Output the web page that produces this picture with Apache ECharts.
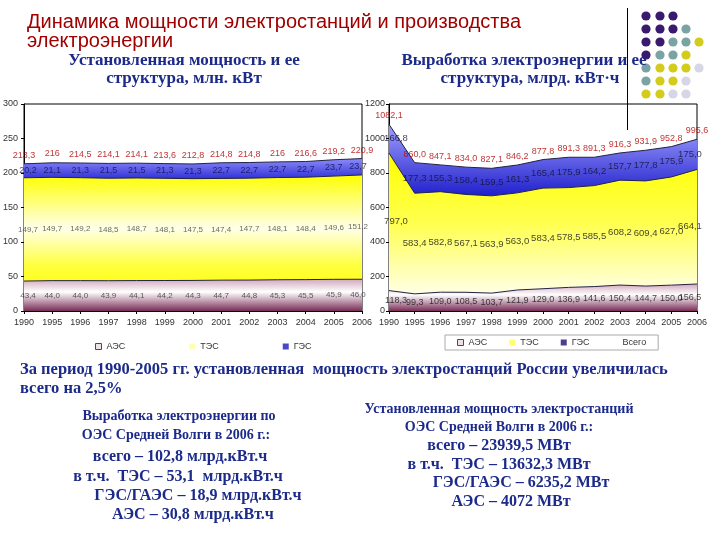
<!DOCTYPE html>
<html><head><meta charset="utf-8">
<script src="https://cdn.jsdelivr.net/npm/echarts@6/dist/echarts.min.js"></script>
<style>html,body{margin:0;padding:0;background:#fff}#c{width:720px;height:540px}</style>
</head><body><div id="c"></div>
<script>
const years = ['1990','1995','1996','1997','1998','1999','2000','2001','2002','2003','2004','2005','2006'];
// Left chart: installed capacity, mln kW
const capAES = [43.4,44.0,44.0,43.9,44.1,44.2,44.3,44.7,44.8,45.3,45.5,45.9,46.0];
const capTES = [149.7,149.7,149.2,148.5,148.7,148.1,147.5,147.4,147.7,148.1,148.4,149.6,151.2];
const capGES = [20.2,21.1,21.3,21.5,21.5,21.3,21.3,22.7,22.7,22.7,22.7,23.7,23.7];
const capTotal = [213.3,216,214.5,214.1,214.1,213.6,212.8,214.8,214.8,216,216.6,219.2,220.9];
// Right chart: generation, bln kWh
const genAES = [118.3,99.3,109.0,108.5,103.7,121.9,129.0,136.9,141.6,150.4,144.7,150.0,156.5];
const genTES = [797.0,583.4,582.8,567.1,563.9,563.0,583.4,578.5,585.5,608.2,609.4,627.0,664.1];
const genGES = [166.8,177.3,155.3,158.4,159.5,161.3,165.4,175.9,164.2,157.7,177.8,175.9,175.0];
const genTotal = [1082.1,860.0,847.1,834.0,827.1,846.2,877.8,891.3,891.3,916.3,931.9,952.8,995.6];
// Axis ticks
const capAxis = {min:0, max:300, interval:50};
const genAxis = {min:0, max:1200, interval:200};

const f1 = v => v.toFixed(1).replace('.', ',');
const fTrim = v => Number.isInteger(v) ? String(v) : f1(v);

const FONT = '"Liberation Sans", Arial, sans-serif';
const SERIF = '"Liberation Serif", "Times New Roman", serif';
const BLUE_TXT = '#1c2a8a';

function grad(stops){
  return new echarts.graphic.LinearGradient(0,0,0,1, stops.map(s=>({offset:s[0], color:s[1]})));
}
const mauve = () => grad([[0,'#d2a8be'],[0.4,'#ffffff'],[1,'#7a2c56']]);
const yellowL = () => grad([[0,'#ffff00'],[0.5,'#ffffea'],[0.85,'#ffff40'],[1,'#ffff20']]);
const yellowR = () => grad([[0,'#ffff00'],[0.5,'#ffff50'],[1,'#ffffe6']]);
const blueL = () => grad([[0,'#8c8cfa'],[1,'#3232d8']]);
const blueR = () => grad([[0,'#a0a0ff'],[1,'#2020cc']]);

function areaSeries(name, data, gi, color){
  return {
    name, type:'line', stack:'s'+gi, data, xAxisIndex:gi, yAxisIndex:gi,
    showSymbol:false, symbol:'none', smooth:false,
    lineStyle:{color:'#222244', width:1},
    itemStyle:{color: color},
    areaStyle:{color: color, opacity:1},
    z:2
  };
}
function midLabels(name, vals, bases, gi, fmt, color, fs, edge){
  const last = vals.length - 1;
  return {
    name, type:'scatter', xAxisIndex:gi, yAxisIndex:gi, symbolSize:0, z:5,
    data: vals.map((v,i)=>{
      const item = {value:[i, bases[i] + v/2], raw:v};
      if (i === 0) item.label = {offset:[edge,0]};
      if (i === last) item.label = {offset:[-edge,0]};
      return item;
    }),
    label:{show:true, position:'inside', color, fontSize:fs, fontFamily:FONT,
      formatter: p => fmt(p.data.raw)},
    emphasis:{disabled:true}, silent:true, tooltip:{show:false}
  };
}
function totalLabels(name, vals, gi, fmt, fs){
  return {
    name, type:'scatter', xAxisIndex:gi, yAxisIndex:gi, symbolSize:0, z:5,
    data: vals.map((v,i)=>[i, v]),
    label:{show:true, position:'top', distance:4, color:'#b00000', fontSize:fs, fontFamily:FONT,
      formatter: p => fmt(p.data[1])},
    silent:true
  };
}
const zeros = years.map(()=>0);
const cap1 = capAES.slice();
const cap2 = capAES.map((v,i)=>v+capTES[i]);
const gen1 = genAES.slice();
const gen2 = genAES.map((v,i)=>v+genTES[i]);

const axisCommonX = gi => ({
  type:'category', gridIndex:gi, data:years, boundaryGap:false,
  axisLine:{lineStyle:{color:'#000', width:1}},
  axisTick:{show:true, length:3, lineStyle:{color:'#000'}},
  axisLabel:{color:'#333', fontSize:9, fontFamily:FONT, margin:7, interval:0},
  splitLine:{show:false}
});
const axisCommonY = (gi, ax, margin) => ({
  type:'value', gridIndex:gi, min:ax.min, max:ax.max, interval:ax.interval,
  axisLine:{show:true, lineStyle:{color:'#000', width:1}},
  axisTick:{show:true, length:3, lineStyle:{color:'#000'}},
  axisLabel:{color:'#333', fontSize:9, fontFamily:FONT, margin, formatter: v => String(v)},
  splitLine:{show:false}
});

const dotColors = {P:'#3a1a6e', T:'#7aa4a4', Y:'#d4cc1c', L:'#d6d6e6'};
const dotRows = ['PPP','PPPT','PPTTY','PTTY','TYYYL','TYYL','YYLL'];
const dotX = [646,660,673,686,699];
const dotY = [16,29,42,55,68,81,94];
const dots = [];
dotRows.forEach((row,r)=>{ row.split('').forEach((c,k)=>{
  dots.push({type:'circle', shape:{cx:dotX[k], cy:dotY[r], r:4.6}, style:{fill:dotColors[c]}, z:1});
});});

function txt(text, x, y, font, fill, align){
  return {type:'text', x, y, z:10, style:{text, font, fill, textAlign:align||'left', textVerticalAlign:'middle'}};
}

const chart = echarts.init(document.getElementById('c'));
chart.setOption({
  animation:false,
  backgroundColor:'#fff',
  grid:[
    {left:22, top:104, width:340, height:207, show:true, borderColor:'#000', borderWidth:1, backgroundColor:'#fff'},
    {left:389, top:104, width:308, height:207, show:true, borderColor:'#000', borderWidth:1, backgroundColor:'#fff'}
  ],
  xAxis:[axisCommonX(0), axisCommonX(1)],
  yAxis:[axisCommonY(0, capAxis, 6), axisCommonY(1, genAxis, 4)],
  legend:[
    {left:90, top:337, itemWidth:6, itemHeight:6, itemGap:64, icon:'rect',
     textStyle:{fontSize:9, color:'#333', fontFamily:FONT},
     data:[
      {name:'АЭС', itemStyle:{color:'#f0e0ea', borderColor:'#604050', borderWidth:1}},
      {name:'ТЭС', itemStyle:{color:'#ffffb0'}},
      {name:'ГЭС', itemStyle:{color:'#4848c8'}}
     ]},
    {left:445, top:335, itemWidth:6, itemHeight:6, itemGap:22, icon:'rect',
     padding:[3,12,3,12], backgroundColor:'#fff', borderColor:'#aaa', borderWidth:1,
     textStyle:{fontSize:9, color:'#333', fontFamily:FONT},
     data:[
      {name:'АЭС', itemStyle:{color:'#f0e0ea', borderColor:'#604050', borderWidth:1}},
      {name:'ТЭС', itemStyle:{color:'#ffff70'}},
      {name:'ГЭС', itemStyle:{color:'#503c90'}},
      {name:'Всего', itemStyle:{color:'rgba(0,0,0,0)'}}
     ]}
  ],
  series:[
    areaSeries('АЭС', capAES, 0, mauve()),
    areaSeries('ТЭС', capTES, 0, yellowL()),
    areaSeries('ГЭС', capGES, 0, blueL()),
    midLabels('АЭС', capAES, zeros, 0, f1, '#333', 8, 4),
    midLabels('ТЭС', capTES, cap1, 0, f1, '#444', 8, 4),
    midLabels('ГЭС', capGES, cap2, 0, f1, '#10104a', 9, 4),
    totalLabels('Всего', capTotal, 0, fTrim, 9),
    areaSeries('АЭС', genAES, 1, mauve()),
    areaSeries('ТЭС', genTES, 1, yellowR()),
    areaSeries('ГЭС', genGES, 1, blueR()),
    midLabels('АЭС', genAES, zeros, 1, f1, '#111', 9, 7),
    midLabels('ТЭС', genTES, gen1, 1, f1, '#111', 9.5, 7),
    midLabels('ГЭС', genGES, gen2, 1, f1, '#111133', 9.5, 7),
    totalLabels('Всего', genTotal, 1, f1, 9)
  ],
  graphic:[
    ...dots,
    {type:'line', shape:{x1:627.5, y1:8, x2:627.5, y2:130}, style:{stroke:'#000', lineWidth:1}, z:20},
    txt('Динамика мощности электростанций и производства', 27, 22, '20px '+FONT, '#a00000'),
    txt('электроэнергии', 27, 41, '20px '+FONT, '#a00000'),
    txt('Установленная мощность и ее', 184, 61, 'bold 17px '+SERIF, BLUE_TXT, 'center'),
    txt('структура, млн. кВт', 184, 79, 'bold 17px '+SERIF, BLUE_TXT, 'center'),
    txt('Выработка электроэнергии и ее', 524, 61, 'bold 17px '+SERIF, BLUE_TXT, 'center'),
    txt('структура, млрд. кВт·ч', 530, 79, 'bold 17px '+SERIF, BLUE_TXT, 'center'),
    txt('За период 1990-2005 гг. установленная  мощность электростанций России увеличилась', 20, 370, 'bold 16.5px '+SERIF, BLUE_TXT),
    txt('всего на 2,5%', 20, 389, 'bold 16.5px '+SERIF, BLUE_TXT),
    txt('Выработка электроэнергии по', 179, 416, 'bold 14px '+SERIF, BLUE_TXT, 'center'),
    txt('ОЭС Средней Волги в 2006 г.:', 176, 435, 'bold 14px '+SERIF, BLUE_TXT, 'center'),
    txt('всего – 102,8 млрд.кВт.ч', 180, 457, 'bold 16px '+SERIF, BLUE_TXT, 'center'),
    txt('в т.ч.  ТЭС – 53,1  млрд.кВт.ч', 178, 477, 'bold 16px '+SERIF, BLUE_TXT, 'center'),
    txt('ГЭС/ГАЭС – 18,9 млрд.кВт.ч', 198, 496, 'bold 16px '+SERIF, BLUE_TXT, 'center'),
    txt('АЭС – 30,8 млрд.кВт.ч', 193, 515, 'bold 16px '+SERIF, BLUE_TXT, 'center'),
    txt('Установленная мощность электростанций', 499, 409, 'bold 14px '+SERIF, BLUE_TXT, 'center'),
    txt('ОЭС Средней Волги в 2006 г.:', 499, 427, 'bold 14px '+SERIF, BLUE_TXT, 'center'),
    txt('всего – 23939,5 МВт', 499, 446, 'bold 16px '+SERIF, BLUE_TXT, 'center'),
    txt('в т.ч.  ТЭС – 13632,3 МВт', 499, 465, 'bold 16px '+SERIF, BLUE_TXT, 'center'),
    txt('ГЭС/ГАЭС – 6235,2 МВт', 521, 483, 'bold 16px '+SERIF, BLUE_TXT, 'center'),
    txt('АЭС – 4072 МВт', 511, 502, 'bold 16px '+SERIF, BLUE_TXT, 'center')
  ]
});
</script></body></html>
